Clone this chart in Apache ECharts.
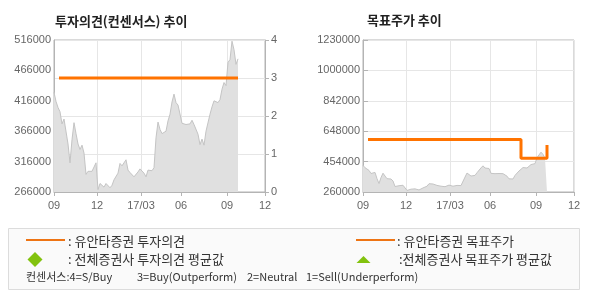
<!DOCTYPE html>
<html><head><meta charset="utf-8">
<script src="https://cdn.jsdelivr.net/npm/echarts@6/dist/echarts.min.js"></script>
<style>html,body{margin:0;padding:0;background:#fff}#c{width:590px;height:300px}</style>
</head><body><div id="c"></div>
<script>
// x axis: day index positions and tick labels
const dayCount = 212;
const tickIdx = [0, 43, 87, 127, 173, 211];
const tickLabels = ['09', '12', '17/03', '06', '09', '12'];
// share price (sampled every 2 day-index units from index 0)
const price = [
430000,415000,405000,398000,378000,386000,385000,345000,314000,352000,
380000,362000,345000,336000,343000,330000,295000,300000,300000,300000,
303000,314000,270000,280000,278000,274000,280000,282000,273000,277000,
286000,288000,297000,313000,309000,311000,319000,302000,298000,297000,
291000,294000,299000,304000,303000,297000,291000,302000,303000,301000,
306000,355000,381000,369000,362000,361000,366000,383000,394000,414000,
427000,413000,409000,410000,379000,379000,377000,376000,378000,384000,
377000,375000,361000,344000,353000,343000,366000,369000,394000,406000,
416000,414000,413000,418000,435000,446000,441000,479000,484000,514000,
500000,476000,485000
];
// investment opinion (0-4 scale)
const opinionIdx = [5, 184];
const opinionVal = [3, 3];
// target price steps
const targetIdx = [5, 158, 184];
const targetVal = [595000, 475000, 560000];
// y-axis tick labels
const priceTicks = ['266000','316000','366000','416000','466000','516000'];
const opinionTicks = ['0','1','2','3','4'];
const targetTicks = ['260000','454000','648000','842000','1000000','1230000'];

const cats = Array.from({length: dayCount}, (_, i) => String(i));
const isTick = (i) => tickIdx.indexOf(i) >= 0;
const tickLabel = (v, i) => { const k = tickIdx.indexOf(i); return k >= 0 ? tickLabels[k] : ''; };
const priceData = price.map((v, i) => [i * 2, v]);
const opinionData = opinionIdx.map((x, i) => [x, opinionVal[i]]);
const targetData = targetIdx.map((x, i) => [x, targetVal[i]]);

const AX = '#b4b4b4', SPL = '#e6e6e6', LBL = '#666';
const numFont = {color: LBL, fontSize: 11, fontFamily: 'Liberation Sans, Arial, sans-serif'};
const KR = '"Noto Sans CJK KR", sans-serif';

function xAxis(gi) {
  return {
    type: 'category', gridIndex: gi, data: cats, boundaryGap: false,
    axisLine: {lineStyle: {color: AX}},
    axisTick: {show: true, interval: isTick, length: 4, lineStyle: {color: AX}},
    axisLabel: Object.assign({interval: isTick, formatter: tickLabel, margin: 8}, numFont),
    splitLine: {show: true, interval: isTick, lineStyle: {color: SPL}}
  };
}

const chart = echarts.init(document.getElementById('c'), null, {renderer: 'canvas'});
chart.setOption({
  animation: false,
  backgroundColor: '#fff',
  grid: [
    {left: 54, top: 40, width: 211, height: 152, show: true, borderColor: AX, borderWidth: 1, backgroundColor: '#fff'},
    {left: 363, top: 40, width: 211, height: 152, show: true, borderColor: AX, borderWidth: 1, backgroundColor: '#fff'}
  ],
  xAxis: [xAxis(0), xAxis(1)],
  yAxis: [
    {type: 'value', gridIndex: 0, min: 266000, max: 516000, interval: 50000,
     axisLine: {show: true, lineStyle: {color: AX}}, axisTick: {show: false},
     axisLabel: Object.assign({margin: 3, formatter: (v) => priceTicks[Math.round((v - 266000) / 50000)] || ''}, numFont),
     splitLine: {show: false}},
    {type: 'value', gridIndex: 0, position: 'right', min: 0, max: 4, interval: 1,
     axisLine: {show: true, lineStyle: {color: AX}}, axisTick: {show: true, length: 4, lineStyle: {color: AX}},
     axisLabel: Object.assign({margin: 6, formatter: (v) => opinionTicks[Math.round(v)] || ''}, numFont),
     splitLine: {show: true, lineStyle: {color: SPL}}},
    {type: 'value', gridIndex: 1, min: 260000, max: 1230000, interval: 194000,
     axisLine: {show: true, lineStyle: {color: AX}}, axisTick: {show: true, inside: true, length: 5, lineStyle: {color: AX}},
     axisLabel: Object.assign({margin: 3, formatter: (v) => targetTicks[Math.round((v - 260000) / 194000)] || ''}, numFont),
     splitLine: {show: true, lineStyle: {color: SPL}}}
  ],
  series: [
    {type: 'line', xAxisIndex: 0, yAxisIndex: 0, data: priceData, symbol: 'none', silent: true,
     lineStyle: {color: '#c4c4c4', width: 1}, areaStyle: {color: '#e0e0e0', opacity: 1}, z: 2},
    {type: 'line', xAxisIndex: 0, yAxisIndex: 1, data: opinionData, symbol: 'none', silent: true,
     lineStyle: {color: '#ff7300', width: 3}, z: 3},
    {type: 'line', xAxisIndex: 1, yAxisIndex: 2, data: priceData, symbol: 'none', silent: true,
     lineStyle: {color: '#c4c4c4', width: 1}, areaStyle: {color: '#e0e0e0', opacity: 1}, z: 2},
    {type: 'line', xAxisIndex: 1, yAxisIndex: 2, data: targetData, step: 'end', symbol: 'none', silent: true,
     lineStyle: {color: '#ff7300', width: 3}, z: 3}
  ],
  graphic: [
    {type: 'text', x: 55, y: 21, style: {text: '투자의견(컨센서스) 추이', fill: '#222', font: 'bold 13px ' + KR, verticalAlign: 'middle'}},
    {type: 'text', x: 367, y: 20, style: {text: '목표주가 추이', fill: '#222', font: 'bold 13px ' + KR, verticalAlign: 'middle'}},
    {type: 'rect', shape: {x: 8.5, y: 228.5, width: 571, height: 61}, style: {fill: '#fafafa', stroke: '#dcdcdc', lineWidth: 1}, z: 0},
    {type: 'line', shape: {x1: 26, y1: 240, x2: 65, y2: 240}, style: {stroke: '#ee7414', lineWidth: 2}},
    {type: 'text', x: 68, y: 241, style: {text: ': 유안타증권 투자의견', fill: '#333', font: '13px ' + KR, verticalAlign: 'middle'}},
    {type: 'polygon', shape: {points: [[35, 252], [42.5, 259.5], [35, 267], [27.5, 259.5]]}, style: {fill: '#82c20e'}},
    {type: 'text', x: 68, y: 259, style: {text: ': 전체증권사 투자의견 평균값', fill: '#333', font: '13px ' + KR, verticalAlign: 'middle'}},
    {type: 'line', shape: {x1: 356, y1: 240, x2: 395, y2: 240}, style: {stroke: '#ee7414', lineWidth: 2}},
    {type: 'text', x: 397, y: 241, style: {text: ': 유안타증권 목표주가', fill: '#333', font: '13px ' + KR, verticalAlign: 'middle'}},
    {type: 'polygon', shape: {points: [[363.5, 256], [370.5, 263], [356.5, 263]]}, style: {fill: '#82c20e'}},
    {type: 'text', x: 399, y: 259, style: {text: ':전체증권사 목표주가 평균값', fill: '#333', font: '13px ' + KR, verticalAlign: 'middle'}},
    {type: 'text', x: 26, y: 277, style: {text: '컨센서스:4=S/Buy', fill: '#333', font: '11px ' + KR, verticalAlign: 'middle'}},
    {type: 'text', x: 137, y: 277, style: {text: '3=Buy(Outperform)', fill: '#333', font: '11px ' + KR, verticalAlign: 'middle'}},
    {type: 'text', x: 247, y: 277, style: {text: '2=Neutral', fill: '#333', font: '11px ' + KR, verticalAlign: 'middle'}},
    {type: 'text', x: 306, y: 277, style: {text: '1=Sell(Underperform)', fill: '#333', font: '11px ' + KR, verticalAlign: 'middle'}}
  ]
});
</script></body></html>
